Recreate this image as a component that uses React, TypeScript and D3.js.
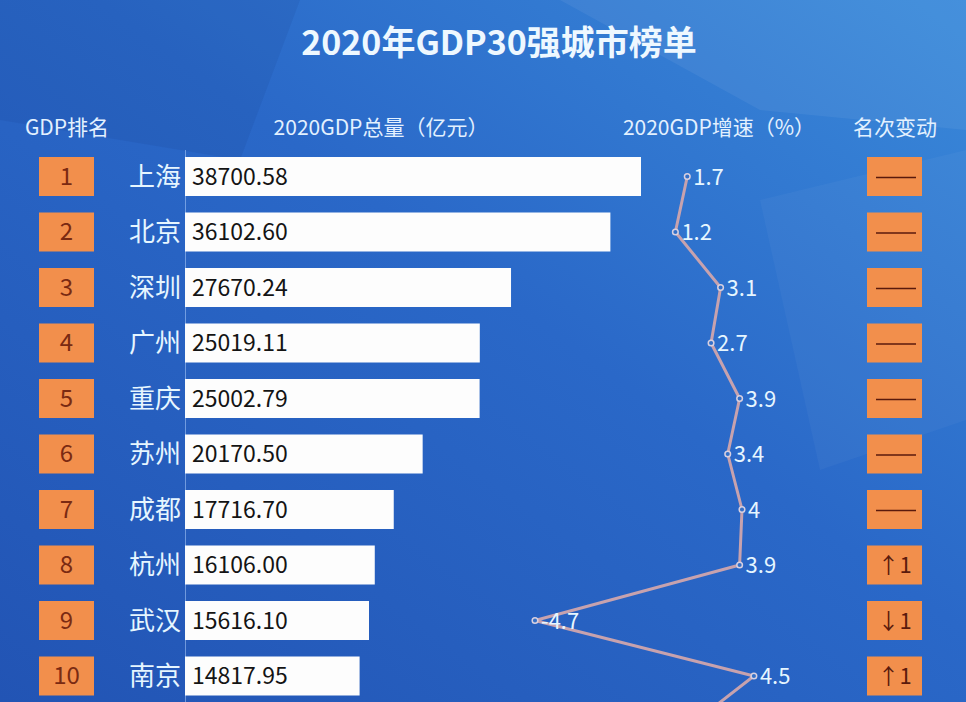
import React, { useEffect } from "react";
import * as d3 from "d3";

const ranks = [1, 2, 3, 4, 5, 6, 7, 8, 9, 10, 11];
const cities = ["上海", "北京", "深圳", "广州", "重庆", "苏州", "成都", "杭州", "武汉", "南京", "天津"];
const gdpValues = [38700.58, 36102.6, 27670.24, 25019.11, 25002.79, 20170.5, 17716.7, 16106.0, 15616.1, 14817.95, 14083.73];
const gdpLabels = ["38700.58", "36102.60", "27670.24", "25019.11", "25002.79", "20170.50", "17716.70", "16106.00", "15616.10", "14817.95", "14083.73"];
const growth = [1.7, 1.2, 3.1, 2.7, 3.9, 3.4, 4, 3.9, -4.7, 4.5, 1.5];
const rankChanges = ["—", "—", "—", "—", "—", "—", "—", "↑1", "↓1", "↑1", "↓1"];
const title = "2020年GDP30强城市榜单";
const headers = ["GDP排名", "2020GDP总量（亿元）", "2020GDP增速（%）", "名次变动"];

const W = 966;
const H = 702;
const FONT = "'Noto Sans CJK SC', 'Noto Sans', sans-serif";

export default function App() {
  useEffect(() => {
    document.body.style.margin = "0";
  }, []);

  const y = d3.scaleLinear().domain([0, 1]).range([176.5, 232]);
  const x = d3.scaleLinear().domain([0, 38700.58]).range([185, 641]);
  const gx = d3.scaleLinear().domain([-4.7, 4]).range([535, 742]);
  const barH = 39;
  const line = d3
    .line<number>()
    .x((d) => gx(d))
    .y((_, i) => y(i));
  const visible = ranks.map((_, i) => i).filter((i) => y(i) + barH / 2 <= H);

  return (
    <svg width={W} height={H} style={{ display: "block" }} fontFamily={FONT}>
      <defs>
        <linearGradient id="bg" x1="0" y1="1" x2="1" y2="0">
          <stop offset="0%" stopColor="#2254b4" />
          <stop offset="55%" stopColor="#2a68c8" />
          <stop offset="100%" stopColor="#3a8ada" />
        </linearGradient>
      </defs>
      <rect width={W} height={H} fill="url(#bg)" />
      <polygon points="560,0 966,0 966,130 760,110" fill="#ffffff" opacity={0.06} />
      <polygon points="0,0 300,0 240,160 0,120" fill="#10307a" opacity={0.1} />
      <polygon points="760,200 966,150 966,420 820,470" fill="#ffffff" opacity={0.035} />

      <text x={499} y={55} textAnchor="middle" fontSize={34} fontWeight={700} fill="#eef8ff">
        {title}
      </text>

      {[67, 381, 719, 895].map((cx, i) => (
        <text key={i} x={cx} y={135} textAnchor="middle" fontSize={21} fill="#e3f1ff">
          {headers[i]}
        </text>
      ))}

      <line x1={185.5} x2={185.5} y1={150} y2={H} stroke="#bcd8ff" strokeOpacity={0.5} strokeWidth={1} />

      {visible.map((i) => (
        <g key={ranks[i]}>
          <rect x={39} y={y(i) - barH / 2} width={55} height={barH} fill="#f28f4c" />
          <text x={66.5} y={y(i) + 8} textAnchor="middle" fontSize={24} fill="#7a2a12">
            {ranks[i]}
          </text>
          <text x={181} y={y(i) + 9} textAnchor="end" fontSize={26} fill="#e6f6ff">
            {cities[i]}
          </text>
          <rect x={x(0)} y={y(i) - barH / 2} width={x(gdpValues[i]) - x(0)} height={barH} fill="#fdfdfd" />
          <text x={192} y={y(i) + 8} fontSize={23} fill="#141414">
            {gdpLabels[i]}
          </text>
          <rect x={867} y={y(i) - barH / 2} width={55} height={barH} fill="#f28f4c" />
          {rankChanges[i] === "—" ? (
            <line x1={876} x2={916} y1={y(i) + 1} y2={y(i) + 1} stroke="#5a1a0c" strokeWidth={1.5} />
          ) : (
            <text x={894.5} y={y(i) + 8} textAnchor="middle" fontSize={22} fill="#5a1a0c">
              {rankChanges[i]}
            </text>
          )}
        </g>
      ))}

      <path d={line(growth) || ""} fill="none" stroke="#c7a2ae" strokeWidth={3} strokeLinejoin="round" />
      {visible.map((i) => (
        <g key={i}>
          <circle cx={gx(growth[i])} cy={y(i)} r={2.8} fill="#3470c8" stroke="#d8d0e0" strokeWidth={1.5} />
          <text x={gx(growth[i]) + 6} y={y(i) + 8} fontSize={22} fill="#e6f6ff">
            {String(growth[i])}
          </text>
        </g>
      ))}
    </svg>
  );
}
